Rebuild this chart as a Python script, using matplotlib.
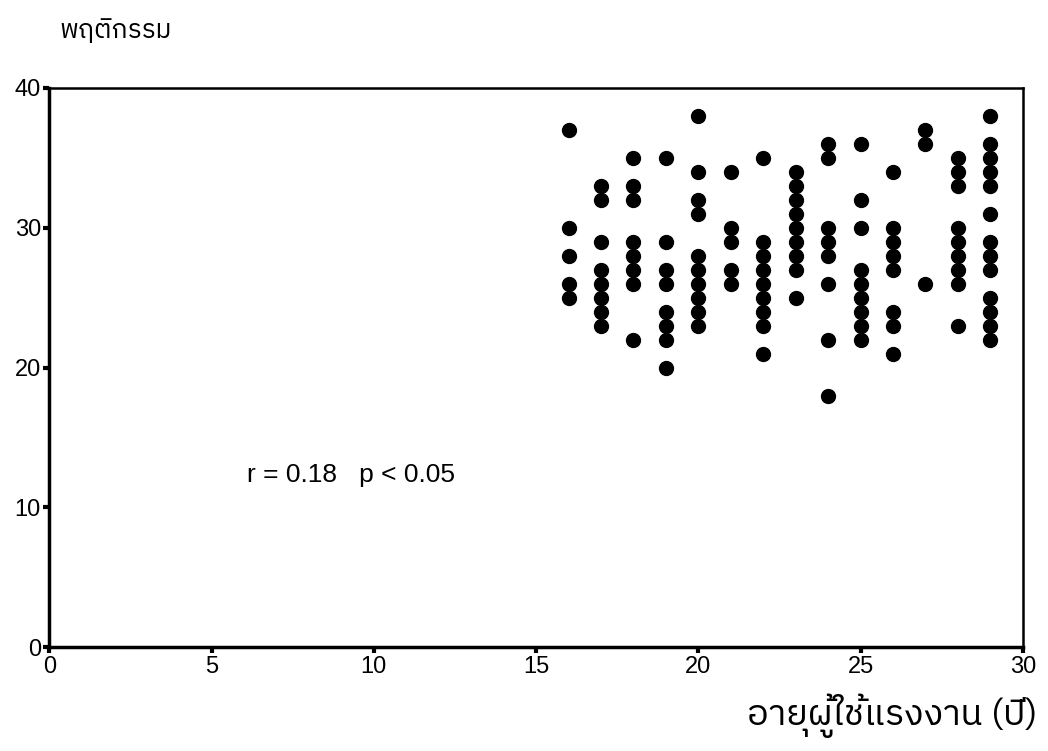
import matplotlib.pyplot as plt
from matplotlib import font_manager

plt.rcParams['font.family'] = ['Liberation Sans', 'DejaVu Sans']

# หาฟอนต์ที่มีตัวอักษรไทย
thai_fonts = sorted(set(f.name for f in font_manager.fontManager.ttflist
                        if 'Thai' in f.name or 'Loma' in f.name
                        or 'Garuda' in f.name or 'Sarabun' in f.name))

# อายุผู้ใช้แรงงาน (ปี) กับคะแนนพฤติกรรม อ่านจากกราฟ
ages = [16, 17, 18, 19, 20, 21, 22, 23, 24, 25, 26, 27, 28, 29]
scores = [
    [37, 30, 28, 26, 25],
    [33, 32, 29, 27, 26, 25, 24, 23],
    [35, 33, 32, 29, 28, 27, 26, 22],
    [35, 29, 27, 26, 24, 23, 22, 20],
    [38, 34, 32, 31, 28, 27, 26, 25, 24, 23],
    [34, 30, 29, 27, 26],
    [35, 29, 28, 27, 26, 25, 24, 23, 21],
    [34, 33, 32, 31, 30, 29, 28, 27, 25],
    [36, 35, 30, 29, 28, 26, 22, 18],
    [36, 32, 30, 27, 26, 25, 24, 23, 22],
    [34, 30, 29, 28, 27, 24, 23, 21],
    [37, 36, 26],
    [35, 34, 33, 30, 29, 28, 27, 26, 23],
    [38, 36, 35, 34, 33, 31, 29, 28, 27, 25, 24, 23, 22],
]

# แตกเป็นคู่ (x, y)
x = []
y = []
for a, s in zip(ages, scores):
    for v in s:
        x.append(a)
        y.append(v)

fig = plt.figure(figsize=(10.48, 7.51), dpi=100)
ax = fig.add_axes([0.047, 0.138, 0.929, 0.745])

ax.plot(x, y, 'o', color='black', markersize=10, linestyle='none')

ax.set_xlim(0, 30)
ax.set_ylim(0, 40)
ax.set_xticks([0, 5, 10, 15, 20, 25, 30])
ax.set_yticks([0, 10, 20, 30, 40])
ax.tick_params(direction='out', length=4, width=3, labelsize=17, pad=2)

ax.spines['left'].set_linewidth(2.5)
ax.spines['bottom'].set_linewidth(2.5)
ax.spines['top'].set_linewidth(1.8)
ax.spines['right'].set_linewidth(1.8)

ax.text(6.1, 12.3, 'r = 0.18   p < 0.05', fontsize=19, va='center')

thai = thai_fonts + ['DejaVu Sans']
fig.text(0.057, 0.96, 'พฤติกรรม', fontsize=19, va='center', family=thai)
fig.text(0.99, 0.047, 'อายุผู้ใช้แรงงาน (ปี)', fontsize=26, va='center',
         ha='right', family=thai)

fig.savefig('out.png', dpi=100)
